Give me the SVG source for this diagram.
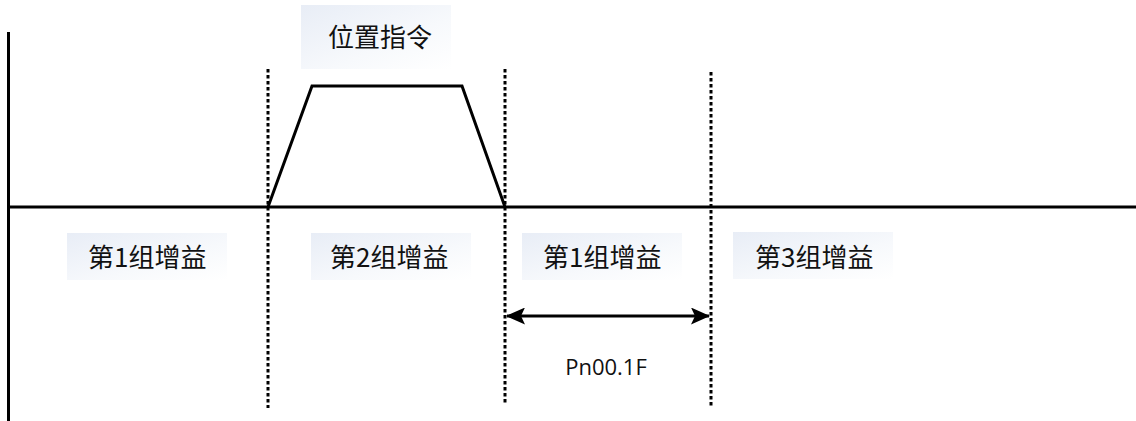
<svg xmlns="http://www.w3.org/2000/svg" width="1136" height="421" viewBox="0 0 1136 421">
<defs>
<linearGradient id="lg" x1="0" y1="0" x2="1" y2="1">
<stop offset="0" stop-color="#e8edf6"/>
<stop offset="0.6" stop-color="#f7f9fc"/>
<stop offset="1" stop-color="#ffffff"/>
</linearGradient>
<marker id="ah" viewBox="0 0 19 17" refX="18" refY="8.5" markerWidth="19" markerHeight="17" markerUnits="userSpaceOnUse" orient="auto-start-reverse">
<path d="M0,0 L19,8.5 L0,17 L4,8.5 Z" fill="#000"/>
</marker>
<style>
.ax{stroke:#000;stroke-width:3;fill:none}
.dash{stroke:#000;stroke-width:3;stroke-dasharray:3.5 2.5;fill:none}
.lbl{font-family:"Noto Sans CJK SC","Noto Sans",sans-serif;font-size:26px;fill:#111}
.pn{font-family:"Open Sans","Noto Sans",sans-serif;font-size:22px;fill:#111}
.bg{fill:url(#lg)}
</style>
</defs>
<rect width="1136" height="421" fill="#fff"/>
<g id="axes">
<line class="ax" x1="8.5" y1="32" x2="8.5" y2="421"/>
<line class="ax" x1="8" y1="207" x2="1136" y2="207"/>
</g>
<g id="connectors">
<line class="dash" x1="268" y1="69" x2="268" y2="408"/>
<line class="dash" x1="505" y1="69" x2="505" y2="404"/>
<line class="dash" x1="711" y1="72" x2="711" y2="408"/>
<polyline class="ax" points="268,207 312,86 462,86 505,207" stroke-linejoin="miter"/>
<line x1="507" y1="316" x2="709" y2="316" stroke="#000" stroke-width="3" marker-start="url(#ah)" marker-end="url(#ah)"/>
</g>
<g id="label-position">
<rect class="bg" x="301" y="5" width="150" height="64"/>
<text class="lbl" x="328" y="47">位置指令</text>
</g>
<g id="label-gain1a">
<rect class="bg" x="67" y="233" width="160" height="47"/>
<text class="lbl" x="88" y="267">第1组增益</text>
</g>
<g id="label-gain2">
<rect class="bg" x="311" y="233" width="160" height="47"/>
<text class="lbl" x="330" y="267">第2组增益</text>
</g>
<g id="label-gain1b">
<rect class="bg" x="522" y="233" width="160" height="47"/>
<text class="lbl" x="543" y="267">第1组增益</text>
</g>
<g id="label-gain3">
<rect class="bg" x="733" y="232" width="160" height="47"/>
<text class="lbl" x="755" y="267">第3组增益</text>
</g>
<g id="label-pn">
<text class="pn" x="606" y="375" text-anchor="middle">Pn00.1F</text>
</g>
</svg>
